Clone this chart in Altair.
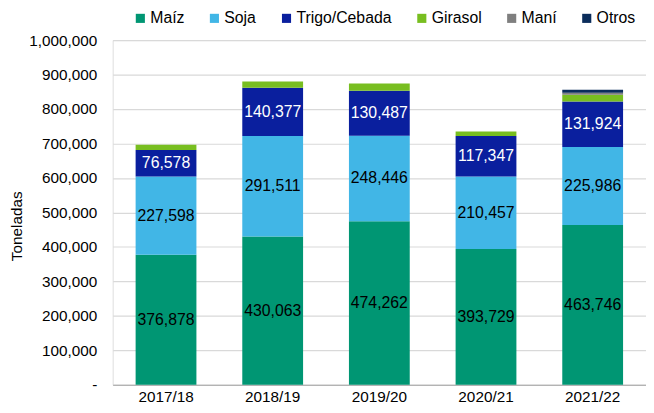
import altair as alt
import pandas as pd

years = ["2017/18", "2018/19", "2019/20", "2020/21", "2021/22"]
crops = ["Maíz", "Soja", "Trigo/Cebada", "Girasol", "Maní", "Otros"]
colors = ["#009673", "#41B6E6", "#0A1F9E", "#78BE20", "#7F7F7F", "#0B2D5B"]

maiz = [376878, 430063, 474262, 393729, 463746]
soja = [227598, 291511, 248446, 210457, 225986]
trigo = [76578, 140377, 130487, 117347, 131924]
girasol = [15000, 18000, 21000, 13000, 20000]
mani = [0, 0, 0, 0, 5500]
otros = [0, 0, 0, 0, 8500]
y_ticks = [0, 100000, 200000, 300000, 400000, 500000, 600000, 700000, 800000, 900000, 1000000]

series = [maiz, soja, trigo, girasol, mani, otros]
rows = []
for ci, (crop, vals) in enumerate(zip(crops, series)):
    for y, v in zip(years, vals):
        rows.append({"year": y, "crop": crop, "value": v, "ord": ci})
df = pd.DataFrame(rows)

base = alt.Chart(df).transform_stack(
    stack="value", groupby=["year"], as_=["v0", "v1"], sort=[alt.SortField("ord", "ascending")]
).transform_calculate(mid="(datum.v0 + datum.v1) / 2")

x_scale = alt.Scale(paddingInner=0.43, paddingOuter=0.215)
x_axis = alt.Axis(labelAngle=0, ticks=False, domainColor="#A6A6A6", domainWidth=1.2,
                  labelFontSize=15.5, labelColor="#000000", labelPadding=5, grid=False)

y_scale = alt.Scale(domain=[0, 1000000], nice=False)
y_axis = alt.Axis(values=y_ticks, tickCount=11, ticks=False, domain=False,
                  labelOverlap=False,
                  gridColor="#D9D9D9", gridWidth=1.2,
                  labelExpr="datum.value == 0 ? '-\u00a0\u00a0' : format(datum.value, ',')",
                  labelFontSize=15.5, labelColor="#000000", labelPadding=16,
                  titleFontSize=15.5, titleFontWeight="normal", titleColor="#000000",
                  titleX=-89, titleY=188)

bars = base.mark_bar().encode(
    x=alt.X("year:N", sort=years, title=None, scale=x_scale, axis=x_axis),
    y=alt.Y("v0:Q", scale=y_scale, title="Toneladas", axis=y_axis),
    y2="v1:Q",
    color=alt.Color("crop:N", scale=alt.Scale(domain=crops, range=colors), sort=crops,
                    legend=alt.Legend(title=None, orient="none", direction="horizontal",
                                      legendX=20, legendY=-30, columns=6, columnPadding=22,
                                      symbolType="square", symbolSize=85, symbolStrokeWidth=0,
                                      labelFontSize=16, labelColor="#000000", labelOffset=2)),
    order=alt.Order("ord:Q"),
)

texts = base.transform_filter(
    alt.FieldOneOfPredicate(field="crop", oneOf=["Maíz", "Soja", "Trigo/Cebada"])
).mark_text(fontSize=16, baseline="middle", align="center").encode(
    x=alt.X("year:N", sort=years, title=None, scale=x_scale, axis=x_axis),
    y=alt.Y("mid:Q", scale=y_scale, title="Toneladas", axis=y_axis),
    text=alt.Text("value:Q", format=","),
    color=alt.condition(alt.datum.crop == "Trigo/Cebada", alt.value("#FFFFFF"), alt.value("#000000")),
)

chart = alt.layer(bars, texts).properties(
    width=540, height=349,
    autosize=alt.AutoSizeParams(type="none"),
    padding={"left": 106, "top": 30, "right": 0, "bottom": 18},
).configure_view(stroke=None).configure(font="Liberation Sans")

chart.save("out.html", embed_options={"renderer": "svg", "actions": False})
